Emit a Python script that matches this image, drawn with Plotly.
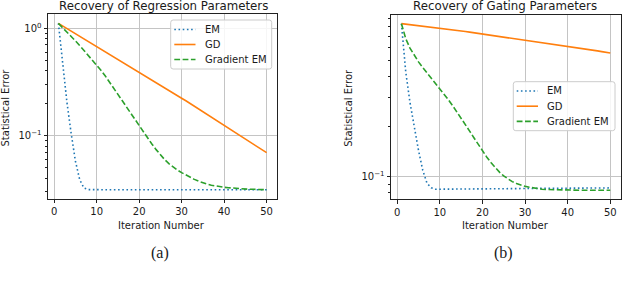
import plotly.graph_objects as go

# ---------------- data ----------------
iterations = list(range(1, 51))

# (a) Recovery of Regression Parameters
reg_em = [1.11, 0.46, 0.205, 0.105, 0.058, 0.039, 0.0325, 0.0314, 0.0313, 0.0313,
          0.0313, 0.0313, 0.0313, 0.0313, 0.0313, 0.0313, 0.0313, 0.0313, 0.0313, 0.0313,
          0.0313, 0.0313, 0.0313, 0.0313, 0.0313, 0.0313, 0.0313, 0.0313, 0.0313, 0.0313,
          0.0313, 0.0313, 0.0313, 0.0313, 0.0313, 0.0313, 0.0313, 0.0313, 0.0313, 0.0313,
          0.0313, 0.0313, 0.0313, 0.0313, 0.0313, 0.0313, 0.0313, 0.0313, 0.0313, 0.0313]
reg_gd = [1.109, 1.050, 0.993, 0.940, 0.889, 0.841, 0.796, 0.753, 0.713, 0.675,
          0.638, 0.604, 0.571, 0.541, 0.512, 0.484, 0.458, 0.434, 0.410, 0.388,
          0.367, 0.348, 0.329, 0.311, 0.294, 0.279, 0.264, 0.249, 0.236, 0.223,
          0.211, 0.199, 0.1875, 0.177, 0.167, 0.157, 0.148, 0.140, 0.132, 0.1245,
          0.1175, 0.1107, 0.1045, 0.0985, 0.0929, 0.0877, 0.0826, 0.078, 0.0735, 0.0693]
reg_gem = [1.109, 1.014, 0.925, 0.841, 0.764, 0.692, 0.625, 0.564, 0.507, 0.455,
           0.406, 0.3606, 0.3177, 0.2786, 0.2432, 0.2123, 0.1854, 0.1618, 0.1413, 0.1233,
           0.1079, 0.0946, 0.0834, 0.0740, 0.0662, 0.0598, 0.0548, 0.0508, 0.0478, 0.0452,
           0.0429, 0.0408, 0.0391, 0.0376, 0.0363, 0.0353, 0.0345, 0.0339, 0.0333, 0.0330,
           0.0327, 0.0324, 0.0321, 0.0319, 0.0318, 0.0316, 0.0316, 0.0315, 0.0314, 0.0313]

# (b) Recovery of Gating Parameters
gate_em = [0.837, 0.43, 0.28, 0.200, 0.144, 0.109, 0.091, 0.0855, 0.0838, 0.0838,
           0.0838, 0.0839, 0.0839, 0.0840, 0.0840, 0.0840, 0.0841, 0.0841, 0.0842, 0.0842,
           0.0842, 0.0843, 0.0843, 0.0844, 0.0844, 0.0844, 0.0845, 0.0845, 0.0846, 0.0846,
           0.0846, 0.0847, 0.0847, 0.0848, 0.0848, 0.0848, 0.0849, 0.0849, 0.0850, 0.0850,
           0.0850, 0.0851, 0.0851, 0.0851, 0.0852, 0.0852, 0.0852, 0.0853, 0.0853, 0.0853]
gate_gd = [0.837, 0.8314, 0.8259, 0.8204, 0.8150, 0.8096, 0.8042, 0.7989, 0.7936, 0.7883,
           0.7818, 0.7753, 0.7689, 0.7625, 0.7562, 0.7499, 0.7437, 0.7375, 0.7314, 0.7254,
           0.7191, 0.7128, 0.7066, 0.7004, 0.6943, 0.6882, 0.6822, 0.6762, 0.6703, 0.6645,
           0.6592, 0.6540, 0.6488, 0.6436, 0.6385, 0.6334, 0.6284, 0.6234, 0.6185, 0.6136,
           0.6076, 0.6017, 0.5959, 0.5901, 0.5844, 0.5787, 0.5731, 0.5676, 0.5621, 0.5567]
gate_gem = [0.837, 0.681, 0.596, 0.537, 0.492, 0.455, 0.423, 0.394, 0.366, 0.340,
            0.3155, 0.291, 0.268, 0.246, 0.2254, 0.206, 0.188, 0.1714, 0.1563, 0.1429,
            0.1312, 0.1213, 0.1130, 0.1062, 0.1007, 0.0964, 0.0931, 0.0906, 0.0887, 0.0873,
            0.0861, 0.0851, 0.0843, 0.0838, 0.0834, 0.0832, 0.0830, 0.0828, 0.0828, 0.0826,
            0.0826, 0.0826, 0.0826, 0.0826, 0.0826, 0.0826, 0.0826, 0.0826, 0.0826, 0.0826]

series_names = ["EM", "GD", "Gradient EM"]
series_colors = ["#1f77b4", "#ff7f0e", "#2ca02c"]
series_dash = ["1.6px,2.6px", "solid", "5.8px,2.5px"]

titles = ["Recovery of Regression Parameters", "Recovery of Gating Parameters"]
captions = ["(a)", "(b)"]
x_label = "Iteration Number"
y_label = "Statistical Error"
x_ticks = [0, 10, 20, 30, 40, 50]

left_major = [1, 0.1]
left_major_text = ["10<sup>0</sup>", "10<sup>\u22121</sup>"]
left_minor = [0.03, 0.04, 0.05, 0.06, 0.07, 0.08, 0.09, 0.2, 0.3, 0.4, 0.5, 0.6, 0.7, 0.8, 0.9]
right_major = [0.1]
right_major_text = ["10<sup>\u22121</sup>"]
right_minor = [0.08, 0.09, 0.2, 0.3, 0.4, 0.5, 0.6, 0.7, 0.8, 0.9]

# ---------------- figure ----------------
W, H = 640, 282
FONT = "DejaVu Sans"
TXT = "#1a1a1a"


def px_x(p):
    return p / W


def px_y(p):
    return (H - p) / H


fig = go.Figure()

panels = [
    (reg_em, reg_gd, reg_gem, "x", "y"),
    (gate_em, gate_gd, gate_gem, "x2", "y2"),
]
for em, gd, gem, xa, ya in panels:
    for name, vals, col, dash in zip(series_names, [em, gd, gem], series_colors, series_dash):
        fig.add_trace(go.Scatter(
            x=iterations, y=vals, mode="lines", name=name,
            line=dict(color=col, width=1.6, dash=dash),
            xaxis=xa, yaxis=ya, showlegend=False,
        ))

axis_common = dict(
    showline=True, mirror=True, linecolor="#222222", linewidth=1,
    ticks="outside", ticklen=3.5, tickwidth=1, tickcolor="#222222",
    showgrid=True, gridcolor="#c4c4c4", gridwidth=1, zeroline=False,
    tickfont=dict(family=FONT, size=10, color=TXT),
)

xrange = [-1.45, 52.45]
fig.update_layout(
    width=W, height=H,
    margin=dict(l=0, r=0, t=0, b=0),
    paper_bgcolor="white", plot_bgcolor="white",
    showlegend=False,
    xaxis=dict(domain=[px_x(48), px_x(277)], range=xrange, tickmode="array",
               tickvals=x_ticks, anchor="y", **axis_common),
    yaxis=dict(domain=[px_y(198.5), px_y(14.3)], type="log", range=[-1.586, 0.130],
               tickmode="array", tickvals=left_major, ticktext=left_major_text,
               anchor="x",
               minor=dict(tickmode="array", tickvals=left_minor, ticklen=2,
                          tickwidth=0.8, tickcolor="#222222", ticks="outside",
                          showgrid=False),
               **axis_common),
    xaxis2=dict(domain=[px_x(391), px_x(620.7)], range=xrange, tickmode="array",
                tickvals=x_ticks, anchor="y2", **axis_common),
    yaxis2=dict(domain=[px_y(199), px_y(15)], type="log", range=[-1.136, -0.025],
                tickmode="array", tickvals=right_major, ticktext=right_major_text,
                anchor="x2",
                minor=dict(tickmode="array", tickvals=right_minor, ticklen=2,
                           tickwidth=0.8, tickcolor="#222222", ticks="outside",
                           showgrid=False),
                **axis_common),
)

shapes = []
annotations = []


# legend boxes (drawn like matplotlib's: rounded frame, line sample, label)
def add_legend(x0, y0, x1, y1, rows_y, sample_x0, sample_x1, text_x):
    r = 2.5
    path = (f"M {px_x(x0 + r)},{px_y(y0)} L {px_x(x1 - r)},{px_y(y0)} "
            f"Q {px_x(x1)},{px_y(y0)} {px_x(x1)},{px_y(y0 + r)} "
            f"L {px_x(x1)},{px_y(y1 - r)} Q {px_x(x1)},{px_y(y1)} {px_x(x1 - r)},{px_y(y1)} "
            f"L {px_x(x0 + r)},{px_y(y1)} Q {px_x(x0)},{px_y(y1)} {px_x(x0)},{px_y(y1 - r)} "
            f"L {px_x(x0)},{px_y(y0 + r)} Q {px_x(x0)},{px_y(y0)} {px_x(x0 + r)},{px_y(y0)} Z")
    shapes.append(dict(type="path", path=path, xref="paper", yref="paper", layer="above",
                       fillcolor="rgba(255,255,255,0.85)", line=dict(color="#cccccc", width=1)))
    for name, col, dash, yy in zip(series_names, series_colors, series_dash, rows_y):
        shapes.append(dict(type="line", xref="paper", yref="paper", layer="above",
                           x0=px_x(sample_x0), x1=px_x(sample_x1), y0=px_y(yy), y1=px_y(yy),
                           line=dict(color=col, width=1.6, dash=dash)))
        annotations.append(dict(text=name, x=px_x(text_x), y=px_y(yy), xref="paper", yref="paper",
                                xanchor="left", yanchor="middle", showarrow=False,
                                font=dict(family=FONT, size=10, color=TXT)))


add_legend(170.7, 20, 271.7, 69, [29.5, 44.5, 59.5], 174.3, 195.5, 202.5)
add_legend(513.3, 81.7, 615.0, 130.7, [91.0, 106.2, 121.4], 516.7, 538.0, 545.3)

title_x = [163.3, 504.5]
xlabel_x = [161.5, 505.0]
ylabel_x = [5.0, 348.3]
caption_x = [160.0, 503.0]
for i in range(2):
    annotations.append(dict(text=titles[i], x=px_x(title_x[i]), y=px_y(6.0),
                            xref="paper", yref="paper", xanchor="center", yanchor="middle",
                            showarrow=False, font=dict(family=FONT, size=11.8, color=TXT)))
    annotations.append(dict(text=x_label, x=px_x(xlabel_x[i]), y=px_y(225),
                            xref="paper", yref="paper", xanchor="center", yanchor="middle",
                            showarrow=False, font=dict(family=FONT, size=10, color=TXT)))
    annotations.append(dict(text=y_label, x=px_x(ylabel_x[i]), y=px_y(107.5), textangle=-90,
                            xref="paper", yref="paper", xanchor="center", yanchor="middle",
                            showarrow=False, font=dict(family=FONT, size=10, color=TXT)))
    annotations.append(dict(text=captions[i], x=px_x(caption_x[i]), y=px_y(252.5),
                            xref="paper", yref="paper", xanchor="center", yanchor="middle",
                            showarrow=False, font=dict(family="Liberation Serif", size=16, color=TXT)))
fig.update_layout(shapes=shapes, annotations=annotations)

# remove the browser's default page margin so the 640x282 figure fills the window exactly
fig.write_html(
    "out.html",
    config={"displayModeBar": False},
    post_script="document.body.style.margin='0';document.body.style.overflow='hidden';",
)
